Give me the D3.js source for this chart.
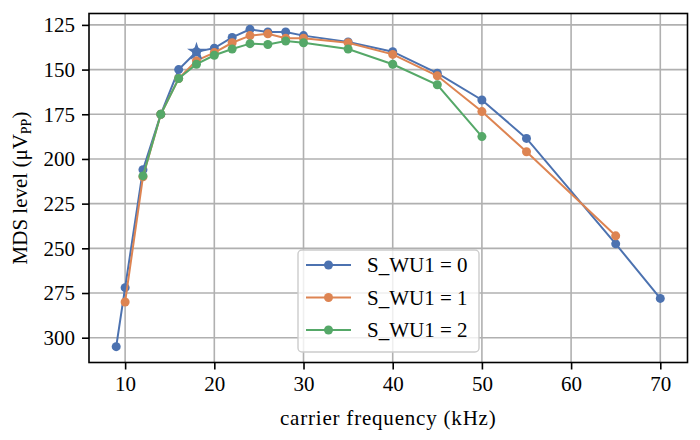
<!DOCTYPE html>
<html>
<head>
<meta charset="utf-8">
<script src="https://cdn.jsdelivr.net/npm/d3@7"></script>
<style>
  body { margin: 0; background: #fff; }
  svg { font-family: "Liberation Serif", serif; }
</style>
</head>
<body>
<div id="chart"></div>
<script>
// data
var freqBlue = [9, 10, 12, 14, 16, 18, 20, 22, 24, 26, 28, 30, 35, 40, 45, 50, 55, 65, 70];
var mdsBlue = [305, 272, 206, 175, 150, 140, 138, 132, 127.5, 129, 129, 131, 134.5, 140, 152, 167, 188.5, 247.5, 278];
var freqOrange = [10, 12, 14, 16, 18, 20, 22, 24, 26, 28, 30, 35, 40, 45, 50, 55, 65];
var mdsOrange = [280, 210, 175, 155, 145, 140.5, 135, 131, 130, 132.5, 132.5, 135, 141.5, 153.5, 173.5, 196, 243];
var freqGreen = [12, 14, 16, 18, 20, 22, 24, 26, 28, 30, 35, 40, 45, 50];
var mdsGreen = [209.5, 175, 155, 147, 142, 138.5, 135.5, 136, 134, 135, 138.5, 147, 158.5, 187.5];
var seriesNames = ["S_WU1 = 0", "S_WU1 = 1", "S_WU1 = 2"];
var starFreq = [18];
var starMds = [140];
var xTicks = [10, 20, 30, 40, 50, 60, 70];
var yTicks = [125, 150, 175, 200, 225, 250, 275, 300];

var colors = ["#4c72b0", "#dd8452", "#55a868"];
var W = 700, H = 440;
var plotL = 89, plotR = 687.5, plotT = 13.5, plotB = 362.5;

var series = [
  { name: seriesNames[0], color: colors[0], pts: freqBlue.map((f, i) => ({ f: f, v: mdsBlue[i] })) },
  { name: seriesNames[1], color: colors[1], pts: freqOrange.map((f, i) => ({ f: f, v: mdsOrange[i] })) },
  { name: seriesNames[2], color: colors[2], pts: freqGreen.map((f, i) => ({ f: f, v: mdsGreen[i] })) }
];

var allF = freqBlue.concat(freqOrange, freqGreen);
var allV = mdsBlue.concat(mdsOrange, mdsGreen);
var fx = d3.extent(allF), vy = d3.extent(allV);
var mx = (fx[1] - fx[0]) * 0.05, my = (vy[1] - vy[0]) * 0.05;

var x = d3.scaleLinear().domain([fx[0] - mx, fx[1] + mx]).range([plotL, plotR]);
var y = d3.scaleLinear().domain([vy[0] - my, vy[1] + my]).range([plotT, plotB]);

var svg = d3.select("#chart").append("svg")
  .attr("width", W).attr("height", H);

// grid
var grid = svg.append("g").attr("stroke", "#b0b0b0").attr("stroke-width", 1.6);
grid.selectAll("line.gx").data(xTicks).enter().append("line")
  .attr("x1", d => x(d)).attr("x2", d => x(d))
  .attr("y1", plotT).attr("y2", plotB);
grid.selectAll("line.gy").data(yTicks).enter().append("line")
  .attr("x1", plotL).attr("x2", plotR)
  .attr("y1", d => y(d)).attr("y2", d => y(d));

// lines + markers
var line = d3.line().x(d => x(d.f)).y(d => y(d.v));
series.forEach(function(s) {
  var g = svg.append("g");
  g.append("path").datum(s.pts)
    .attr("d", line).attr("fill", "none")
    .attr("stroke", s.color).attr("stroke-width", 2);
  g.selectAll("circle").data(s.pts).enter().append("circle")
    .attr("cx", d => x(d.f)).attr("cy", d => y(d.v))
    .attr("r", 4.5).attr("fill", s.color);
});

svg.selectAll("path.star").data(starFreq).enter().append("path")
  .attr("class", "star")
  .attr("transform", (d, i) => "translate(" + x(d) + "," + y(starMds[i]) + ")")
  .attr("d", d3.symbol().type(d3.symbolStar).size(110))
  .attr("fill", colors[0]);

// axes
var xAxis = svg.append("g").attr("transform", "translate(0," + plotB + ")")
  .call(d3.axisBottom(x).tickValues(xTicks).tickSize(7).tickPadding(7));
var yAxis = svg.append("g").attr("transform", "translate(" + plotL + ",0)")
  .call(d3.axisLeft(y).tickValues(yTicks).tickSize(7).tickPadding(7));
[xAxis, yAxis].forEach(function(a) {
  a.select(".domain").remove();
  a.selectAll(".tick line").attr("stroke", "#000").attr("stroke-width", 1.6);
  a.selectAll(".tick text").attr("font-size", 21).attr("font-family", "Liberation Serif").attr("fill", "#000");
});

svg.append("rect")
  .attr("x", plotL).attr("y", plotT)
  .attr("width", plotR - plotL).attr("height", plotB - plotT)
  .attr("fill", "none").attr("stroke", "#000").attr("stroke-width", 1.6);

// axis labels
svg.append("text")
  .attr("x", (plotL + plotR) / 2).attr("y", 425)
  .attr("text-anchor", "middle").attr("font-size", 21)
  .attr("letter-spacing", 0.8)
  .text("carrier frequency (kHz)");

var yl = svg.append("text")
  .attr("transform", "translate(27," + ((plotT + plotB) / 2) + ") rotate(-90)")
  .attr("text-anchor", "middle").attr("font-size", 21);
yl.append("tspan").text("MDS level (\u03BCV");
yl.append("tspan").attr("font-size", 14).attr("dy", 4).text("PP");
yl.append("tspan").attr("dy", -4).text(")");

// legend
var lg = svg.append("g");
lg.append("rect")
  .attr("x", 298).attr("y", 250).attr("width", 181).attr("height", 102)
  .attr("rx", 4).attr("fill", "#fff").attr("fill-opacity", 0.8)
  .attr("stroke", "#cccccc").attr("stroke-width", 1.4);
var items = lg.selectAll("g.item").data(series).enter().append("g")
  .attr("transform", (d, i) => "translate(0," + (265 + i * 32.5) + ")");
items.append("line").attr("x1", 306).attr("x2", 351)
  .attr("stroke", d => d.color).attr("stroke-width", 2);
items.append("circle").attr("cx", 328.5).attr("r", 4.5).attr("fill", d => d.color);
items.append("text").attr("x", 367).attr("dy", 7)
  .attr("font-size", 21).text(d => d.name);
</script>
</body>
</html>
